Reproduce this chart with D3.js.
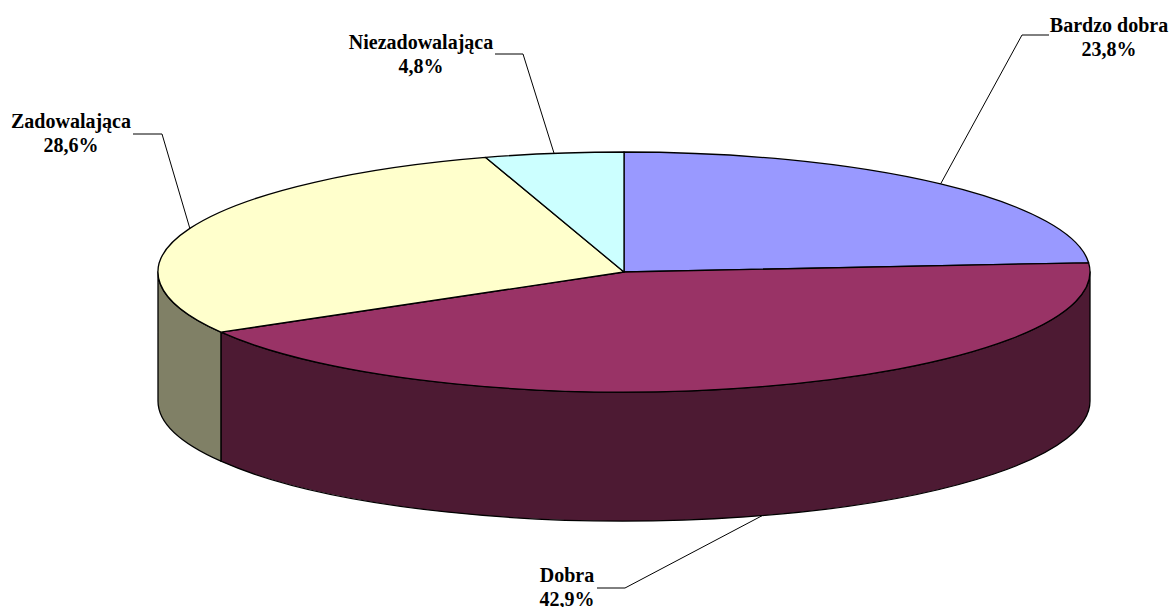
<!DOCTYPE html>
<html>
<head>
<meta charset="utf-8">
<script src="https://cdn.jsdelivr.net/npm/d3@7"></script>
<style>
  body { margin: 0; background: #fff; }
</style>
</head>
<body>
<div id="chart"></div>
<script>
// data
const categories = ["Bardzo dobra", "Dobra", "Zadowalająca", "Niezadowalająca"]
const values = [23.8, 42.9, 28.6, 4.8]
const valueLabels = ["23,8%", "42,9%", "28,6%", "4,8%"]
const topColors = ["#9999FF", "#993366", "#FFFFCC", "#CCFFFF"]
const sideColors = ["#4D4D80", "#4D1A33", "#808066", "#668080"]

const w = 1172
const h = 607
const cx = 624, cy = 272
const rx = 466, ry = 120
const depth = 129

// label placement: text centre, baseline, and leader elbow (x1 -> x2 horizontal)
const labelPos = [
  {x: 1109, y: 32, ly: 35, lx1: 1049, lx2: 1022},
  {x: 567, y: 582, ly: 588, lx1: 597, lx2: 625},
  {x: 71, y: 128, ly: 134, lx1: 133, lx2: 162},
  {x: 421, y: 49, ly: 54, lx1: 495, lx2: 523}
]

const svg = d3.select("#chart").append("svg")
  .attr("width", w)
  .attr("height", h)

const pie = d3.pie().sort(null).value(d => d)
const arcs = pie(values)

function pt(a, dy = 0) {
  return [cx + rx * Math.sin(a), cy - ry * Math.cos(a) + dy]
}

// sides (only the front half of the ellipse is visible)
const front0 = Math.PI / 2, front1 = 3 * Math.PI / 2
arcs.forEach((d, i) => {
  const b0 = Math.max(d.startAngle, front0)
  const b1 = Math.min(d.endAngle, front1)
  if (b1 <= b0) return
  const p0 = pt(b0), p1 = pt(b1), q1 = pt(b1, depth), q0 = pt(b0, depth)
  const path = `M${p0}A${rx},${ry} 0 0 1 ${p1}L${q1}A${rx},${ry} 0 0 0 ${q0}Z`
  svg.append("path")
    .attr("d", path)
    .attr("fill", sideColors[i])
    .attr("stroke", "#000")
    .attr("stroke-width", 1.3)
    .attr("stroke-linejoin", "round")
})

// top faces
arcs.forEach((d, i) => {
  const p0 = pt(d.startAngle), p1 = pt(d.endAngle)
  const large = d.endAngle - d.startAngle > Math.PI ? 1 : 0
  svg.append("path")
    .attr("d", `M${cx},${cy}L${p0}A${rx},${ry} 0 ${large} 1 ${p1}Z`)
    .attr("fill", topColors[i])
    .attr("stroke", "#000")
    .attr("stroke-width", 1.3)
    .attr("stroke-linejoin", "round")
})

// labels and leader lines
arcs.forEach((d, i) => {
  const mid = (d.startAngle + d.endAngle) / 2
  const front = mid > front0 && mid < front1
  const p = pt(mid, front ? depth : 0)
  const l = labelPos[i]
  svg.append("polyline")
    .attr("points", `${l.lx1},${l.ly} ${l.lx2},${l.ly} ${p}`)
    .attr("fill", "none")
    .attr("stroke", "#000")
    .attr("stroke-width", 1)

  const t = svg.append("text")
    .attr("text-anchor", "middle")
    .attr("font-family", "'Liberation Serif', 'Times New Roman', 'DejaVu Serif', serif")
    .attr("font-weight", "bold")
    .attr("font-size", 20)
    .attr("fill", "#000")
  t.append("tspan").attr("x", l.x).attr("y", l.y).text(categories[i])
  t.append("tspan").attr("x", l.x).attr("y", l.y + 24).text(valueLabels[i])
})
</script>
</body>
</html>
